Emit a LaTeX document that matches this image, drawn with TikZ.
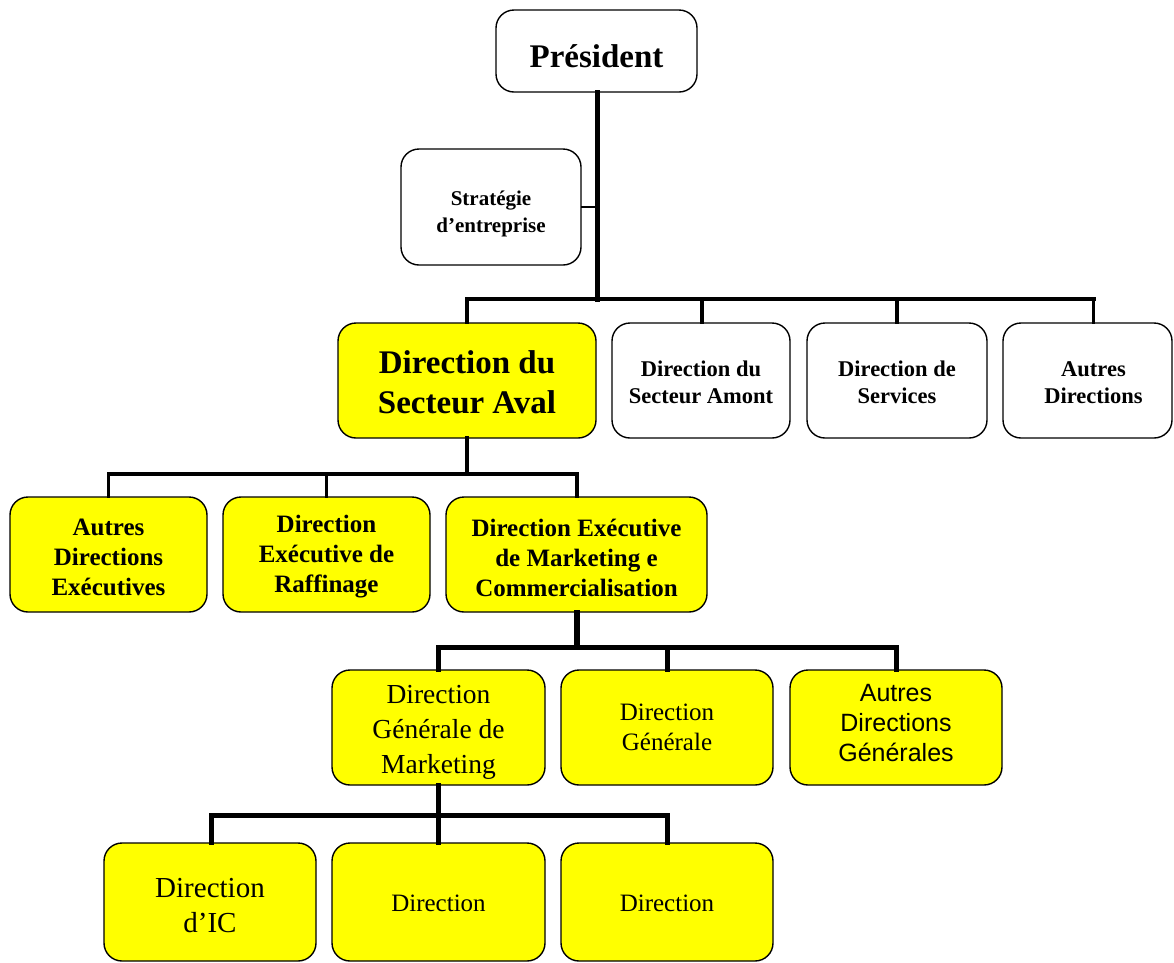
\documentclass[tikz,border=0pt]{standalone}
\usepackage{fontspec}
\setmainfont{Liberation Serif}
\newfontfamily\arialfont{Liberation Sans}
\definecolor{boxyellow}{RGB}{255,255,0}
\begin{document}
\begin{tikzpicture}[x=1pt,y=-1pt,
  box/.style={draw=black,line width=1.4pt,rounded corners=18pt,inner sep=0pt},
  wbox/.style={box,fill=white},
  ybox/.style={box,fill=boxyellow},
  txt/.style={align=center,inner sep=0pt},
  link/.style={line width=#1,line cap=rect},
  link/.default=4pt]
\useasboundingbox (0,0) rectangle (1174,962);
\clip (0,0) rectangle (1174,962);
% top level
\node[wbox,minimum width=201pt,minimum height=82pt,
  label={[txt,yshift=-5pt,font=\bfseries\fontsize{33}{40}\selectfont]center:Président}] (pres) at (596.5,51) {};
\node[wbox,minimum width=180pt,minimum height=116pt,
  label={[txt,yshift=-7pt,font=\bfseries\fontsize{21}{27}\selectfont]center:{Stratégie\\d’entreprise}}] (strat) at (491,207) {};
% second level
\node[ybox,minimum width=258pt,minimum height=115pt,
  label={[txt,yshift=-2pt,font=\bfseries\fontsize{33}{40}\selectfont]center:{Direction du\\Secteur Aval}}] (aval) at (467,380.5) {};
\node[wbox,minimum width=178pt,minimum height=115pt,
  label={[txt,yshift=-2pt,font=\bfseries\fontsize{22.5}{27}\selectfont]center:{Direction du\\Secteur Amont}}] (amont) at (701,380.5) {};
\node[wbox,minimum width=180pt,minimum height=115pt,
  label={[txt,yshift=-2pt,font=\bfseries\fontsize{22.5}{27}\selectfont]center:{Direction de\\Services}}] (serv) at (897,380.5) {};
\node[wbox,minimum width=169pt,minimum height=115pt,
  label={[txt,xshift=6pt,yshift=-2pt,font=\bfseries\fontsize{22.5}{27}\selectfont]center:{Autres\\Directions}}] (autres) at (1087.5,380.5) {};
% executive directions
\node[ybox,minimum width=197pt,minimum height=115pt,
  label={[txt,yshift=-3pt,font=\bfseries\fontsize{25}{30}\selectfont]center:{Autres\\Directions\\Exécutives}}] (ade) at (108.5,554.5) {};
\node[ybox,minimum width=207pt,minimum height=115pt,
  label={[txt,yshift=-2pt,font=\bfseries\fontsize{25}{30}\selectfont]center:{Direction\\Exécutive de\\Raffinage}}] (raff) at (326.5,554.5) {};
\node[ybox,minimum width=261pt,minimum height=115pt,
  label={[txt,yshift=-3pt,font=\bfseries\fontsize{25}{30}\selectfont]center:{Direction Exécutive\\de Marketing e\\Commercialisation}}] (mkt) at (576.5,554.5) {};
% general directions
\node[ybox,minimum width=213pt,minimum height=115pt,
  label={[txt,yshift=-5pt,font=\fontsize{27.5}{35}\selectfont]center:{Direction\\Générale de\\Marketing}}] (dgm) at (438.5,727.5) {};
\node[ybox,minimum width=212pt,minimum height=115pt,
  label={[txt,font=\fontsize{25}{30}\selectfont]center:{Direction\\Générale}}] (dg) at (667,727.5) {};
\node[ybox,minimum width=212pt,minimum height=115pt,
  label={[txt,yshift=4pt,font=\arialfont\fontsize{25}{30}\selectfont]center:{Autres\\Directions\\Générales}}] (adg) at (896,727.5) {};
% directions
\node[ybox,minimum width=212pt,minimum height=118pt,
  label={[txt,yshift=-4pt,font=\fontsize{29}{35}\selectfont]center:{Direction\\d’IC}}] (dic) at (210,902) {};
\node[ybox,minimum width=213pt,minimum height=118pt,
  label={[txt,yshift=-1pt,font=\fontsize{25}{30}\selectfont]center:Direction}] (d2) at (438.5,902) {};
\node[ybox,minimum width=212pt,minimum height=118pt,
  label={[txt,yshift=-1pt,font=\fontsize{25}{30}\selectfont]center:Direction}] (d3) at (667,902) {};
% junctions of the connectors
\coordinate (busA) at (597,299);
\coordinate (busB) at (467,474);
\coordinate (busC) at (577,647);
\coordinate (busD) at (438,815);
% president to second level
\draw[link=5pt] (pres.south -| busA) -- (busA);
\draw[link=2.2pt] (strat.east) -- (strat.east -| busA);
\draw[link=4.5pt] (aval.north |- busA) -- ([xshift=6pt]autres.north |- busA);
\draw[link=3.5pt] (aval.north) -- (aval.north |- busA);
\draw[link=3.5pt] ([xshift=1pt]amont.north) -- ([xshift=1pt]amont.north |- busA);
\draw[link=3.5pt] (serv.north) -- (serv.north |- busA);
\draw[link=3.5pt] ([xshift=6pt]autres.north) -- ([xshift=6pt]autres.north |- busA);
% downstream sector to executive directions
\draw[link=4.5pt] (aval.south) -- (busB);
\draw[link=3.5pt] (ade.north |- busB) -- ([xshift=0.5pt]mkt.north |- busB);
\draw[link=3.5pt] (ade.north) -- (ade.north |- busB);
\draw[link=3.5pt] (raff.north) -- (raff.north |- busB);
\draw[link=3.5pt] ([xshift=0.5pt]mkt.north) -- ([xshift=0.5pt]mkt.north |- busB);
% marketing to general directions
\draw[link=5.5pt] (mkt.south -| busC) -- (busC);
\draw[link=5pt] (dgm.north |- busC) -- (adg.north |- busC);
\draw[link=5pt] (dgm.north) -- (dgm.north |- busC);
\draw[link=5pt] (dg.north) -- (dg.north |- busC);
\draw[link=5pt] (adg.north) -- (adg.north |- busC);
% general marketing to directions
\draw[link=5pt] (dgm.south -| busD) -- (busD);
\draw[link=5pt] ([xshift=1pt]dic.north |- busD) -- (d3.north |- busD);
\draw[link=5pt] ([xshift=1pt]dic.north) -- ([xshift=1pt]dic.north |- busD);
\draw[link=5pt] (d2.north) -- (d2.north |- busD);
\draw[link=5pt] (d3.north) -- (d3.north |- busD);
\end{tikzpicture}
\end{document}
